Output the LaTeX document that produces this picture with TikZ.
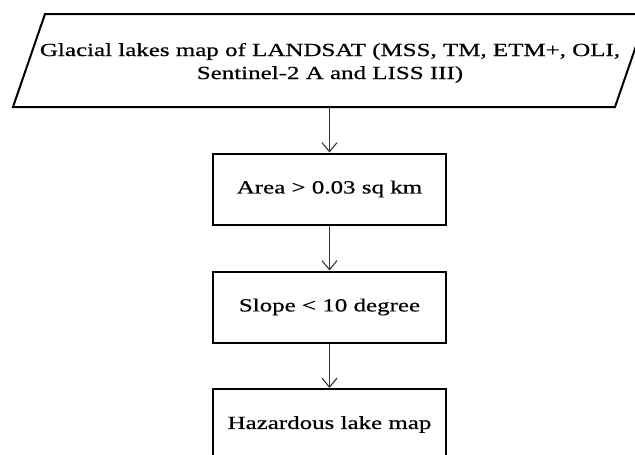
\documentclass[tikz,border=0pt]{standalone}
\usepackage{fontspec}
\setmainfont{Liberation Serif}[FakeStretch=1.35,FakeBold=0.6]
\usetikzlibrary{arrows.meta}
\begin{document}
\begin{tikzpicture}[x=1pt,y=-1pt,
  txt/.style={font=\fontsize{18.5}{23}\selectfont, text=black, inner sep=0pt, align=center},
  procbox/.style={draw=black, line width=2pt, minimum width=233pt, minimum height=71pt, txt},
  flow/.style={draw=black!80, line width=1.1pt, -{Straight Barb[length=9pt,width=15pt,line width=1.1pt]}}]
\useasboundingbox (0,0) rectangle (635,455);
\begin{scope}
\clip (0,0) rectangle (635,455);
% input parallelogram
\draw[line width=2pt, line join=miter] (45,14) -- (647,14) -- (615,107) -- (13,107) -- cycle;
\node[txt] (input) at (330,63) {Glacial lakes map of LANDSAT (MSS, TM, ETM+, OLI,\\Sentinel-2 A and LISS III)};
\coordinate (inbot) at (329.5,107);
\node[procbox] (area) at (329.5,189) {Area > 0.03 sq km};
\node[procbox] (slope) at (329.5,307) {Slope < 10 degree};
\node[procbox] (haz) at (329.5,424.5) {Hazardous lake map};
\draw[flow] (inbot) -- (area.north);
\draw[flow] (area.south) -- (slope.north);
\draw[flow] (slope.south) -- (haz.north);
\end{scope}
\end{tikzpicture}
\end{document}
